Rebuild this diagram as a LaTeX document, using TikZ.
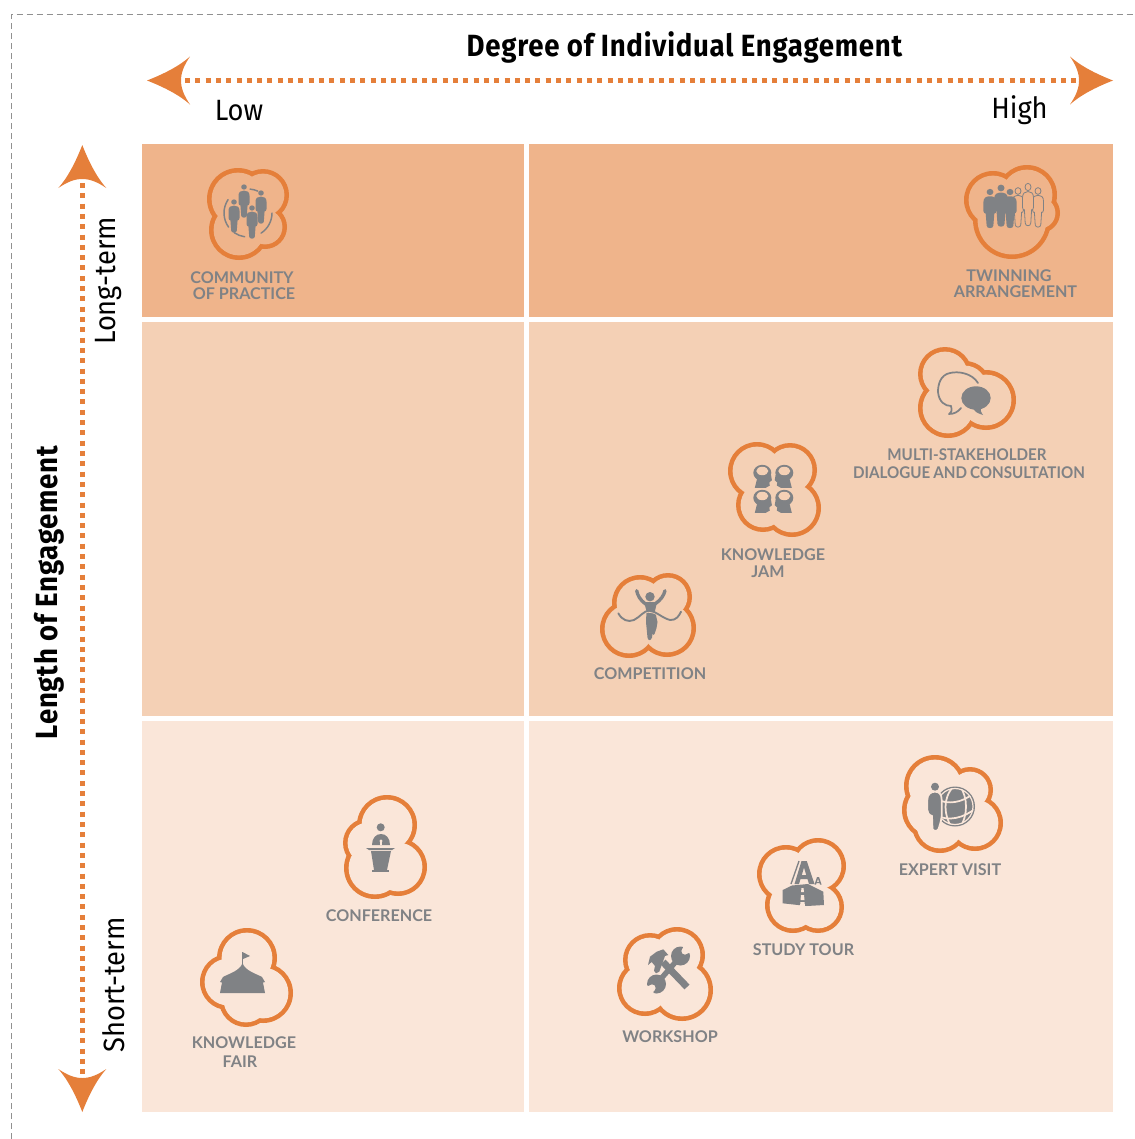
\documentclass[tikz,border=0pt]{standalone}
\usepackage{fontspec}
\setmainfont{Fira Sans}
\newfontfamily\headfont{Fira Sans}[FakeStretch=0.9,LetterSpace=2.5]
\newfontfamily\sidefont{Fira Sans}[FakeStretch=0.93]
\newfontfamily\labelfont{Lato}
\newfontfamily\labelnarrow{Lato}[FakeStretch=0.94,WordSpace=0.8]
\definecolor{pdark}{HTML}{EFB48B}
\definecolor{pmid}{HTML}{F4D0B5}
\definecolor{plight}{HTML}{FAE6D9}
\definecolor{orng}{HTML}{E57F3A}
\definecolor{icon}{HTML}{808285}
\definecolor{frameg}{HTML}{909090}
\tikzset{
  heading/.style={inner sep=0,font=\headfont\bfseries\fontsize{23}{25}\selectfont,text=black},
  axislabel/.style={inner sep=0,font=\sidefont\fontsize{22}{24}\selectfont,text=black},
  itemlabel/.style={inner sep=0,yshift=-0.6pt,font=\labelfont\bfseries\fontsize{12.1}{14}\selectfont,text=icon},
  longlabel/.style={inner sep=0,yshift=-0.6pt,font=\labelnarrow\bfseries\fontsize{12.1}{14}\selectfont,text=icon},
  dotline/.style={orng,line width=3.75pt,dash pattern=on 3.75pt off 3.98pt},
  ringline/.style={icon,line width=1.1pt,line cap=round},
}
% cloud: union of discs with an orange rim; #1 panel colour, #2 list x/y/r
\newcommand{\cloudshape}[2]{%
  \foreach \cx/\cy/\cr in {#2} \fill[orng] (\cx,\cy) circle[radius=\cr];
  \foreach \cx/\cy/\cr in {#2} \fill[#1] (\cx,\cy) circle[radius={\cr-4.6}];
}
\newcommand{\arrowtip}[3]{%
  \begin{scope}[shift={(#1,#2)},rotate=#3]
    \fill[orng] (0,0) .. controls (18,-7) and (33,-15) .. (43,-24)
      .. controls (37,-15) and (34,-8) .. (34,0)
      .. controls (34,8) and (37,15) .. (43,24)
      .. controls (33,15) and (18,7) .. (0,0) -- cycle;
  \end{scope}}
\newcommand{\figbody}{(-5.5,9) .. controls (-5.5,5) and (-3,3.8) .. (0,3.8) .. controls (3,3.8) and (5.5,5) .. (5.5,9) -- (5.5,17) .. controls (5.5,19) and (4,19.5) .. (3.6,19) -- (2.8,30) .. controls (2.8,33) and (-2.8,33) .. (-2.8,30) -- (-3.6,19) .. controls (-4,19.5) and (-5.5,19) .. (-5.5,17) -- cycle}
\newcommand{\personfill}[4]{%
  \begin{scope}[shift={(#1,#2)},xscale=#3,yscale=#4]
    \fill[icon] (0,0) circle[radius=2.8];
    \fill[icon] \figbody;
  \end{scope}}
\newcommand{\personline}[5]{%
  \begin{scope}[shift={(#1,#2)},xscale=#3,yscale=#4]
    \draw[icon,line width=.6pt,fill=#5] (0,0) circle[radius=3];
    \draw[icon,line width=.6pt,fill=#5] \figbody;
  \end{scope}}
\newcommand{\headicon}[3]{%
  \begin{scope}[shift={(#1,#2)},xscale=#3]
    \fill[icon] (0,-.2) ellipse[x radius=9,y radius=8];
    \fill[icon] (-5,5) -- (-7.5,14.8) -- (3.5,14.8) -- (7.5,12.5) -- (7,9.5) -- (9.6,7.2) -- (8.7,2) -- cycle;
    \fill[pmid] (0,-2) ellipse[x radius=6,y radius=4.2];
  \end{scope}}
\begin{document}
\begin{tikzpicture}[x=0.75pt,y=-0.75pt]
\useasboundingbox (0,0) rectangle (1135,1139);
% frame
\draw[frameg,line width=.75pt,dash pattern=on 4.5pt off 3pt] (11.5,1139) -- (11.5,14) -- (1135,14);
% panels
\fill[pdark] (142,144) rectangle (524,317);
\fill[pdark] (529,144) rectangle (1113,317);
\fill[pmid] (142,322) rectangle (524,716);
\fill[pmid] (529,322) rectangle (1113,716);
\fill[plight] (142,721) rectangle (524,1112);
\fill[plight] (529,721) rectangle (1113,1112);
% axes
\coordinate (hL) at (185,80.5);
\coordinate (hR) at (1077,80.5);
\coordinate (vT) at (82.3,183);
\coordinate (vB) at (82.3,1075);
\draw[dotline] (hL) -- (hR);
\draw[dotline] (vT) -- (vB);
\arrowtip{147}{80.5}{0}
\arrowtip{1113}{80.5}{180}
\arrowtip{82.3}{145}{-90}
\arrowtip{82.3}{1112}{90}
\node[heading] (title) at (684.5,47.5) {Degree of Individual Engagement};
\node[heading,rotate=90] (ytitle) at (49.5,592.5) {Length of Engagement};
\node[axislabel] (low) at (239,110.5) {Low};
\node[axislabel] (high) at (1019.5,110.5) {High};
\node[axislabel,rotate=90] (long) at (108.5,281) {Long-term};
\node[axislabel,rotate=90] (short) at (114,985) {Short-term};
% ---- community of practice
\cloudshape{pdark}{238/199/31,263/195/26,239/230/30,265/227/22}
\draw[ringline] (248,213) ++(144:24) arc[start angle=144,end angle=214,radius=24];
\draw[ringline] (248,213) ++(98:24) arc[start angle=98,end angle=125,radius=24];
\draw[ringline] (248,213) ++(0:24) arc[start angle=0,end angle=57,radius=24];
\draw[ringline] (248,213) ++(275:24) arc[start angle=275,end angle=294,radius=24];
\personfill{244}{187}{1}{.95}
\personfill{261}{193}{1}{.95}
\personfill{234}{202}{1}{.95}
\personfill{252}{208}{1}{.95}
\node[itemlabel] (cop1) at (242,277) {COMMUNITY};
\node[itemlabel] (cop2) at (244,293) {OF PRACTICE};
% ---- twinning
\cloudshape{pdark}{993/200/29,1027/195/30,1040/213/20,1012/220/39}
\personline{1018}{191}{1}{1.12}{pdark}
\personline{1038}{191}{1}{1.12}{pdark}
\personline{1028}{187}{1}{1.2}{pdark}
\personfill{990}{192}{1.2}{1.12}
\personfill{1010}{192}{1.2}{1.12}
\personfill{1001}{188}{1.25}{1.2}
\node[itemlabel] (tw1) at (1009,275) {TWINNING};
\node[itemlabel] (tw2) at (1015.5,291) {ARRANGEMENT};
% ---- multi-stakeholder
\cloudshape{pmid}{945/374/27,948/408/30,986/400/30,965/387/26}
\draw[icon,line width=1.3pt,line cap=round,line join=round] (978,383) .. controls (972,373) and (958,371) .. (950,373) .. controls (940,375) and (938,385) .. (938,392) .. controls (939,402) and (945,406) .. (951,406) .. controls (952,410) and (952,412) .. (949,414) .. controls (954,414) and (958,412) .. (961,408);
\fill[icon] (976,398) ellipse[x radius=14.7,y radius=11.7];
\fill[icon] (973,408) .. controls (975,412) and (977,413) .. (983,415) .. controls (981,412) and (980,410) .. (981,407) -- cycle;
\node[longlabel] (ms1) at (967,454) {MULTI-STAKEHOLDER};
\node[longlabel] (ms2) at (969,472) {DIALOGUE AND CONSULTATION};
% ---- knowledge jam
\cloudshape{pmid}{757/471/29,790/470/27,763/505/27,792/508/29}
\headicon{762.3}{473}{1}
\headicon{784.3}{473}{-1}
\headicon{762.3}{498}{1}
\headicon{784.3}{498}{-1}
\node[itemlabel] (kj1) at (773,554) {KNOWLEDGE};
\node[itemlabel] (kj2) at (768,571) {JAM};
% ---- competition
\cloudshape{pmid}{629/629/29,640/603/28,668/597/24,667/628/29}
\fill[icon] (650,596.7) circle[radius=4.7];
\draw[icon,line width=2.5pt,line cap=round,line join=round] (636.7,590.7) .. controls (637.5,595) and (640,600) .. (645.5,604);
\draw[icon,line width=2.5pt,line cap=round,line join=round] (665,590.7) .. controls (664,595) and (661,600) .. (655,604);
\fill[icon] (644,602) -- (657,602) -- (655,611) -- (657.5,622) -- (656.5,628) -- (654.5,634) .. controls (653.5,635.5) and (652.8,635) .. (652.5,633.5) -- (652,637.5) .. controls (651,641) and (648,641) .. (647.5,637.5) -- (646,622) -- (646.5,611) -- cycle;
\draw[pmid,line width=1.3pt] (638.3,617.8) .. controls (642,615) and (645,611.8) .. (648,611.8) .. controls (652,611.8) and (655,613) .. (658,614.5);
\draw[icon,line width=1.4pt,line cap=round] (618.3,613.3) .. controls (622,620) and (628,622.5) .. (634,620) .. controls (640,617) and (644,610.5) .. (649,610.7) .. controls (656,611) and (662,618) .. (670,620) .. controls (676,620.5) and (679,616) .. (681,611.7);
\node[itemlabel] (comp) at (650,673) {COMPETITION};
% ---- expert visit
\cloudshape{plight}{935/786/31,932/810/30,970/790/23,975/823/28,940/825/28}
\fill[icon] (955,806.5) circle[radius=20];
\begin{scope}
\clip (955,806.5) circle[radius=18.6];
\draw[plight,line width=1.5pt] (955,806.5) circle[radius=18.4];
\draw[plight,line width=1.3pt] (936,799) .. controls (948,805) and (962,803) .. (974,793);
\draw[plight,line width=1.3pt] (936,815) .. controls (948,822) and (964,818) .. (976,808);
\draw[plight,line width=1.3pt] (954,786) .. controls (942,798) and (944,816) .. (952,828);
\draw[plight,line width=1.3pt] (960,786) .. controls (968,798) and (968,815) .. (960,828);
\end{scope}
\draw[plight,line width=1.3pt,fill=icon] (927.3,800) .. controls (927.3,794) and (931,791.7) .. (935,791.7) .. controls (939,791.7) and (941.7,794) .. (941.7,800) -- (941.7,816) .. controls (941,822) and (939.5,826) .. (938.5,829) .. controls (937.5,831.5) and (933.5,831.5) .. (932.5,829) -- (932,816) .. controls (928.5,815) and (927.3,812) .. (927.3,810) -- cycle;
\fill[icon] (935,786.7) circle[radius=4];
\node[itemlabel] (ev) at (950,869) {EXPERT VISIT};
% ---- study tour
\cloudshape{plight}{786/874/29,818/866/28,793/905/28,818/907/26}
\fill[icon,even odd rule] (801.5,861) -- (806.8,861) -- (814.5,884) -- (809,884) -- (807.5,879) -- (800.5,879) -- (799,884) -- (794.5,884) -- cycle (801.8,875) -- (806.2,875) -- (804,867.5) -- cycle;
\draw[icon,line width=1pt] (799,861) -- (791,884);
\fill[icon,even odd rule] (817,877) -- (819,877) -- (821.5,884.5) -- (820,884.5) -- (819.5,883) -- (816.5,883) -- (816,884.5) -- (814.5,884.5) -- cycle (817,882) -- (819,882) -- (818,878.5) -- cycle;
\fill[icon] (782.7,890) -- (792,885.5) -- (808,884) -- (823.3,891.7) -- (824,905) -- (807,906) -- (782.7,903.3) -- cycle;
\fill[plight] (801.5,888) -- (803.5,888) -- (804,892) -- (801,892) -- cycle;
\fill[plight] (801,895) -- (804,895) -- (804.5,900) -- (800.5,900) -- cycle;
\fill[plight] (800.5,902) -- (804.5,902) -- (805,906.2) -- (800,906.2) -- cycle;
\node[itemlabel] (st) at (803.5,949) {STUDY TOUR};
% ---- workshop
\cloudshape{plight}{677/955/28,650/960/27,645/988/28,682/990/31}
% wrench
\draw[icon,line width=4pt] (679,958) -- (659,981);
\fill[icon] (680.5,956) circle[radius=9.5];
\fill[icon] (656.5,984) circle[radius=9.5];
\fill[plight] (683,953) -- (683,940) -- (698,953) -- cycle;
\fill[plight] (685,951) circle[radius=3.6];
\fill[plight] (654,987) -- (642,984.5) -- (653,998) -- cycle;
\fill[plight] (652,988) circle[radius=3.6];
% hammer
\draw[icon,line width=5.2pt] (663,962) -- (687,987);
\fill[icon] (648,965) -- (650,956.7) -- (656.7,951.7) -- (663.3,949.3) -- (668.3,955) -- (665,956) -- (659.3,971.7) -- (656,973.3) -- (654,970.7) -- (655,966) -- (651.7,962) -- cycle;
\node[itemlabel] (ws) at (670,1036) {WORKSHOP};
% ---- conference
\cloudshape{plight}{387/825/30,368/843/25,375/868/31,398/867/29}
\fill[icon] (380.7,827.3) circle[radius=4];
\fill[icon] (372,845) .. controls (372,838) and (376,834) .. (381,834) .. controls (386,834) and (390,838) .. (390,845) -- cycle;
\fill[plight] (381,841) circle[radius=1.6];
\fill[plight] (379.6,841) rectangle (382.4,845);
\fill[icon] (366,848) -- (395,848) -- (392,850) -- (369,850) -- cycle;
\fill[icon] (371,851) -- (391,851) -- (387,870) -- (374,870) -- cycle;
\fill[icon] (372,870) rectangle (389,872);
\node[itemlabel] (conf) at (379,915) {CONFERENCE};
% ---- knowledge fair
\cloudshape{plight}{247/958/30,228/982/28,263/993/30,246/1000/27}
\draw[icon,line width=.9pt] (242.5,952) -- (242.5,967);
\fill[icon] (242.5,952) -- (250,956) -- (243,959) -- cycle;
\fill[icon] (242.5,963) .. controls (240,971) and (228,974) .. (223,977) -- (220,982) -- (222,982.5) -- (220,993) -- (265,993) -- (263,982.5) -- (265,982) -- (262,977) .. controls (257,974) and (245,971) .. (242.5,963) -- cycle;
\node[itemlabel] (kf1) at (244,1042) {KNOWLEDGE};
\node[itemlabel] (kf2) at (240,1061) {FAIR};
\end{tikzpicture}
\end{document}
